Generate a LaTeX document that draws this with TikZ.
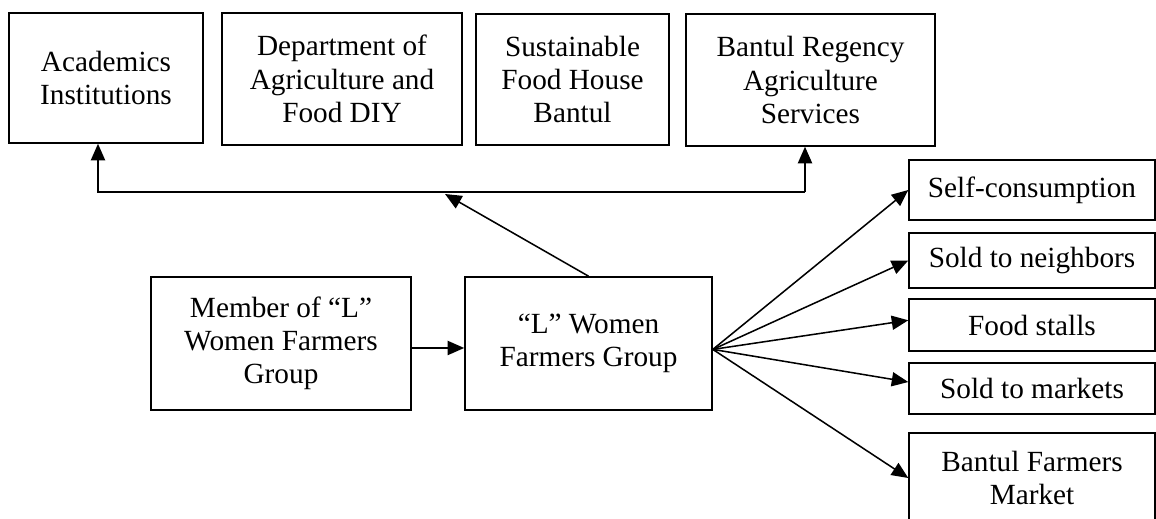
\documentclass[tikz,border=0pt]{standalone}
\usepackage{fontspec}
\setmainfont{Liberation Serif}
\usetikzlibrary{arrows.meta}
\begin{document}
\begin{tikzpicture}[x=0.4237pt, y=-0.4237pt,
		box/.style={draw, line width=0.65pt, align=center, inner sep=0pt, font=\fontsize{12.4}{14.1}\selectfont},
		outbox/.style={box, minimum width=104.2pt},
		arr/.style={line width=0.65pt, -{Triangle[length=7pt, width=6pt]}}]
		
		\clip (0,0) rectangle (1156,518);
		
		\node[box, minimum width=82.2pt, minimum height=55.1pt] (acad) at (106,78) {Academics\\Institutions};
		\node[box, minimum width=101.7pt, minimum height=55.9pt] (dept) at (342,79) {Department of\\Agriculture and\\Food DIY};
		\node[box, minimum width=81.8pt, minimum height=55.5pt] (sfh) at (572.5,79.5) {Sustainable\\Food House\\Bantul};
		\node[box, minimum width=105.5pt, minimum height=55.9pt] (bras) at (810.5,80) {Bantul Regency\\Agriculture\\Services};
		
		\node[box, minimum width=110.2pt, minimum height=56.4pt] (member) at (281,343.5) {Member of “L”\\Women Farmers\\Group};
		\node[box, minimum width=104.7pt, minimum height=56.4pt] (lwfg) at (588.5,343.5) {“L” Women\\Farmers Group};
		
		\node[outbox, minimum height=25.4pt] (self) at (1032,190) {Self-consumption};
		\node[outbox, minimum height=23.3pt] (neigh) at (1032,260.5) {Sold to neighbors};
		\node[outbox, minimum height=22pt] (stalls) at (1032,325) {Food stalls};
		\node[outbox, minimum height=21.6pt] (markets) at (1032,388.5) {Sold to markets};
		\node[outbox, minimum height=38.1pt] (bfm) at (1032,478) {Bantul Farmers\\Market};
		
		\coordinate (busL) at (98,192);
		\coordinate (busR) at (805,192);
		\coordinate (busin) at (445,194);
		
		\draw[arr] (busR) -- (busL) -- (busL |- acad.south);
		\draw[arr] (busR) -- (busR |- bras.south);
		\draw[arr] (lwfg.north) -- (busin);
		
		\draw[arr] ([yshift=-1.9pt]member.east) -- ([yshift=-1.9pt]lwfg.west);
		
		\draw[arr] ([yshift=-2.5pt]lwfg.east) -- (self.west);
		\draw[arr] ([yshift=-2.5pt]lwfg.east) -- (neigh.west);
		\draw[arr] ([yshift=-2.5pt]lwfg.east) -- ([yshift=2pt]stalls.west);
		\draw[arr] ([yshift=-2.5pt]lwfg.east) -- ([yshift=2.75pt]markets.west);
		\draw[arr] ([yshift=-2.5pt]lwfg.east) -- (bfm.west);
		
	\end{tikzpicture}
\end{document}
